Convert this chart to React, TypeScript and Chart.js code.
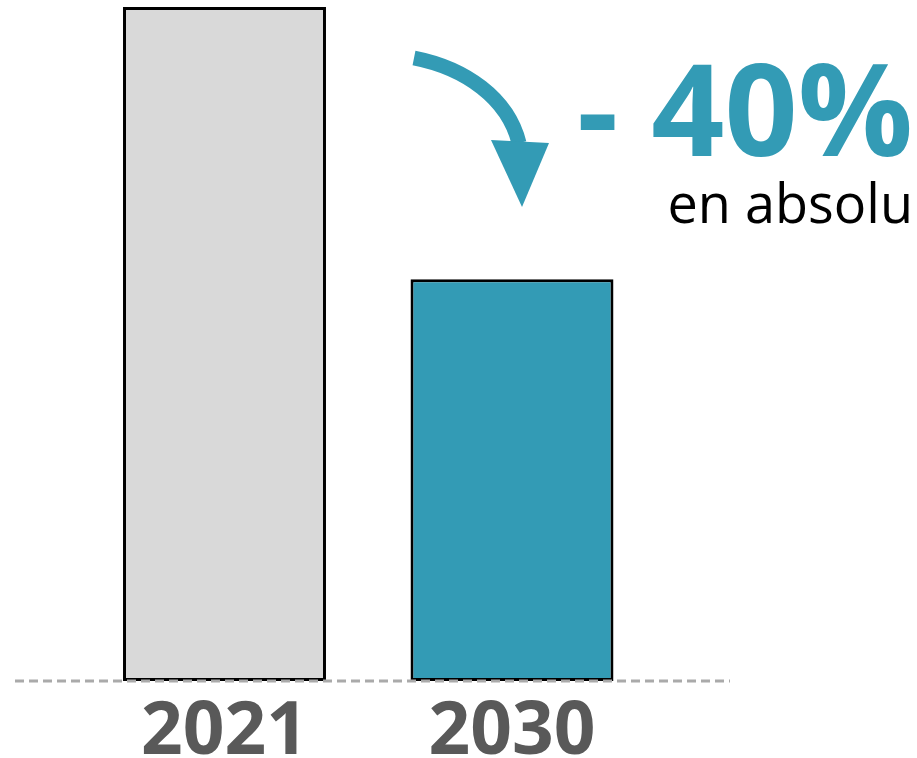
import React, { useEffect, useRef } from "react";
import { Chart, registerables } from "chart.js";

Chart.register(...registerables);

const YEARS = ["2021", "2030"];
const VALUES = [100, 59.6];
const BAR_COLORS = ["#d9d9d9", "#339bb5"];
const CHANGE_LABEL = "- 40%";
const CHANGE_SUB = "en absolu";

const TEAL = "#339bb5";

const overlayPlugin = {
  id: "overlay",
  afterDatasetsDraw(chart: any) {
    const ctx = chart.ctx;
    const y = chart.scales.y.getPixelForValue(0);
    ctx.save();
    // dashed baseline
    ctx.strokeStyle = "#aaaaaa";
    ctx.lineWidth = 3;
    ctx.setLineDash([9, 5]);
    ctx.beginPath();
    ctx.moveTo(15, y);
    ctx.lineTo(730, y);
    ctx.stroke();
    ctx.setLineDash([]);

    // curved arrow
    ctx.strokeStyle = TEAL;
    ctx.lineWidth = 15;
    ctx.lineCap = "butt";
    ctx.beginPath();
    ctx.moveTo(414, 58);
    ctx.bezierCurveTo(465, 68, 508, 98, 519, 143);
    ctx.stroke();
    ctx.fillStyle = TEAL;
    ctx.beginPath();
    ctx.moveTo(491, 140);
    ctx.lineTo(549, 143);
    ctx.lineTo(522, 207);
    ctx.closePath();
    ctx.fill();

    // text
    ctx.fillStyle = TEAL;
    ctx.font = "bold 128px 'Open Sans'";
    ctx.textAlign = "right";
    ctx.textBaseline = "alphabetic";
    ctx.fillText(CHANGE_LABEL, 913, 156);
    ctx.fillStyle = "#000000";
    ctx.font = "54px 'Open Sans'";
    ctx.fillText(CHANGE_SUB, 913, 223);
    ctx.restore();
  },
};

export default function App() {
  const ref = useRef<HTMLCanvasElement>(null);
  useEffect(() => {
    document.body.style.margin = "0";
    const chart = new Chart(ref.current as HTMLCanvasElement, {
      type: "bar",
      data: {
        labels: YEARS,
        datasets: [
          {
            data: VALUES,
            backgroundColor: BAR_COLORS,
            borderColor: "#000000",
            borderWidth: 3,
            borderSkipped: false,
            barPercentage: 1,
            categoryPercentage: 0.706,
          },
        ],
      },
      options: {
        responsive: false,
        animation: false,
        layout: { padding: { left: 80.75, right: 261.25, top: 7, bottom: 0 } },
        plugins: { legend: { display: false }, tooltip: { enabled: false } },
        scales: {
          y: { display: false, min: 0, max: 100 },
          x: {
            grid: { display: false, drawTicks: false },
            border: { display: false },
            ticks: {
              color: "#595959",
              padding: 16,
              font: { family: "'Open Sans'", weight: "bold", size: 73, lineHeight: 1 },
            },
            afterFit: (scale: any) => {
              scale.height = 77;
            },
          },
        },
      },
      plugins: [overlayPlugin],
    });
    return () => chart.destroy();
  }, []);
  return <canvas ref={ref} width={917} height={758} style={{ display: "block" }} />;
}
